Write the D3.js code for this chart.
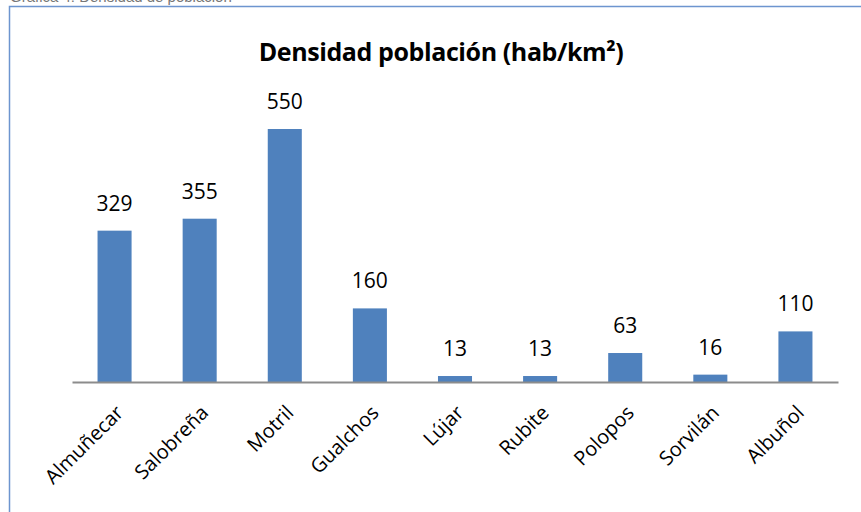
<!DOCTYPE html>
<html>
<head>
<meta charset="utf-8">
<script src="https://cdn.jsdelivr.net/npm/d3@7"></script>
<style>
  body { margin: 0; background: #fff; }
  svg { display: block; }
</style>
</head>
<body>
<div id="chart"></div>
<script>
// data
var municipios = ["Almuñecar", "Salobreña", "Motril", "Gualchos", "Lújar", "Rubite", "Polopos", "Sorvilán", "Albuñol"];
var densidad = [329, 355, 550, 160, 13, 13, 63, 16, 110];
var yDomain = [0, 600];

var width = 861, height = 512;
var margin = {top: 106, right: 23, bottom: 130, left: 72};

var svg = d3.select("#chart")
    .append("svg")
    .attr("width", width)
    .attr("height", height);

// clipped caption line above the frame
svg.append("text")
    .attr("x", 10)
    .attr("y", 2)
    .attr("font-family", "Liberation Sans, Arial, sans-serif")
    .attr("font-size", "15px")
    .attr("fill", "#777")
    .text("Gráfica 4: Densidad de población");

// chart frame (runs past right and bottom edge)
svg.append("rect")
    .attr("x", 9.5)
    .attr("y", 6.5)
    .attr("width", 900)
    .attr("height", 600)
    .attr("fill", "#fff")
    .attr("stroke", "#6d95cf")
    .attr("stroke-width", 1.5);

var x = d3.scaleBand()
    .domain(municipios)
    .range([margin.left, width - margin.right])
    .paddingInner(0.6)
    .paddingOuter(0.3);

var y = d3.scaleLinear()
    .domain(yDomain)
    .range([height - margin.bottom, margin.top]);

var data = municipios.map(function(m, i) { return {name: m, value: densidad[i]}; });

// title
svg.append("text")
    .attr("x", 441)
    .attr("y", 61)
    .attr("text-anchor", "middle")
    .attr("font-family", "Open Sans, sans-serif")
    .attr("font-weight", "bold")
    .attr("font-size", "25px")
    .attr("letter-spacing", "-0.4px")
    .attr("fill", "#000")
    .text("Densidad población (hab/km²)");

// bars
svg.selectAll("rect.bar")
    .data(data)
    .enter()
    .append("rect")
    .attr("class", "bar")
    .attr("x", function(d) { return x(d.name); })
    .attr("y", function(d) { return y(d.value); })
    .attr("width", x.bandwidth())
    .attr("height", function(d) { return y(0) - y(d.value); })
    .attr("fill", "#4f81bd");

// value labels
svg.selectAll("text.val")
    .data(data)
    .enter()
    .append("text")
    .attr("class", "val")
    .attr("x", function(d) { return x(d.name) + x.bandwidth() / 2; })
    .attr("y", function(d) { return y(d.value) - 20; })
    .attr("text-anchor", "middle")
    .attr("font-family", "Open Sans, sans-serif")
    .attr("font-size", "21px")
    .attr("fill", "#000")
    .text(function(d) { return d.value; });

// x axis
var xAxis = svg.append("g")
    .attr("transform", "translate(0," + y(0) + ")")
    .call(d3.axisBottom(x).tickSize(0).tickPadding(0));

xAxis.select(".domain")
    .attr("stroke", "#8c8c8c")
    .attr("stroke-width", 2);

xAxis.selectAll("text")
    .attr("font-family", "Open Sans, sans-serif")
    .attr("font-size", "20px")
    .attr("fill", "#000")
    .attr("text-anchor", "end")
    .attr("dy", "0")
    .attr("transform", "translate(10,32) rotate(-45)");
</script>
</body>
</html>
